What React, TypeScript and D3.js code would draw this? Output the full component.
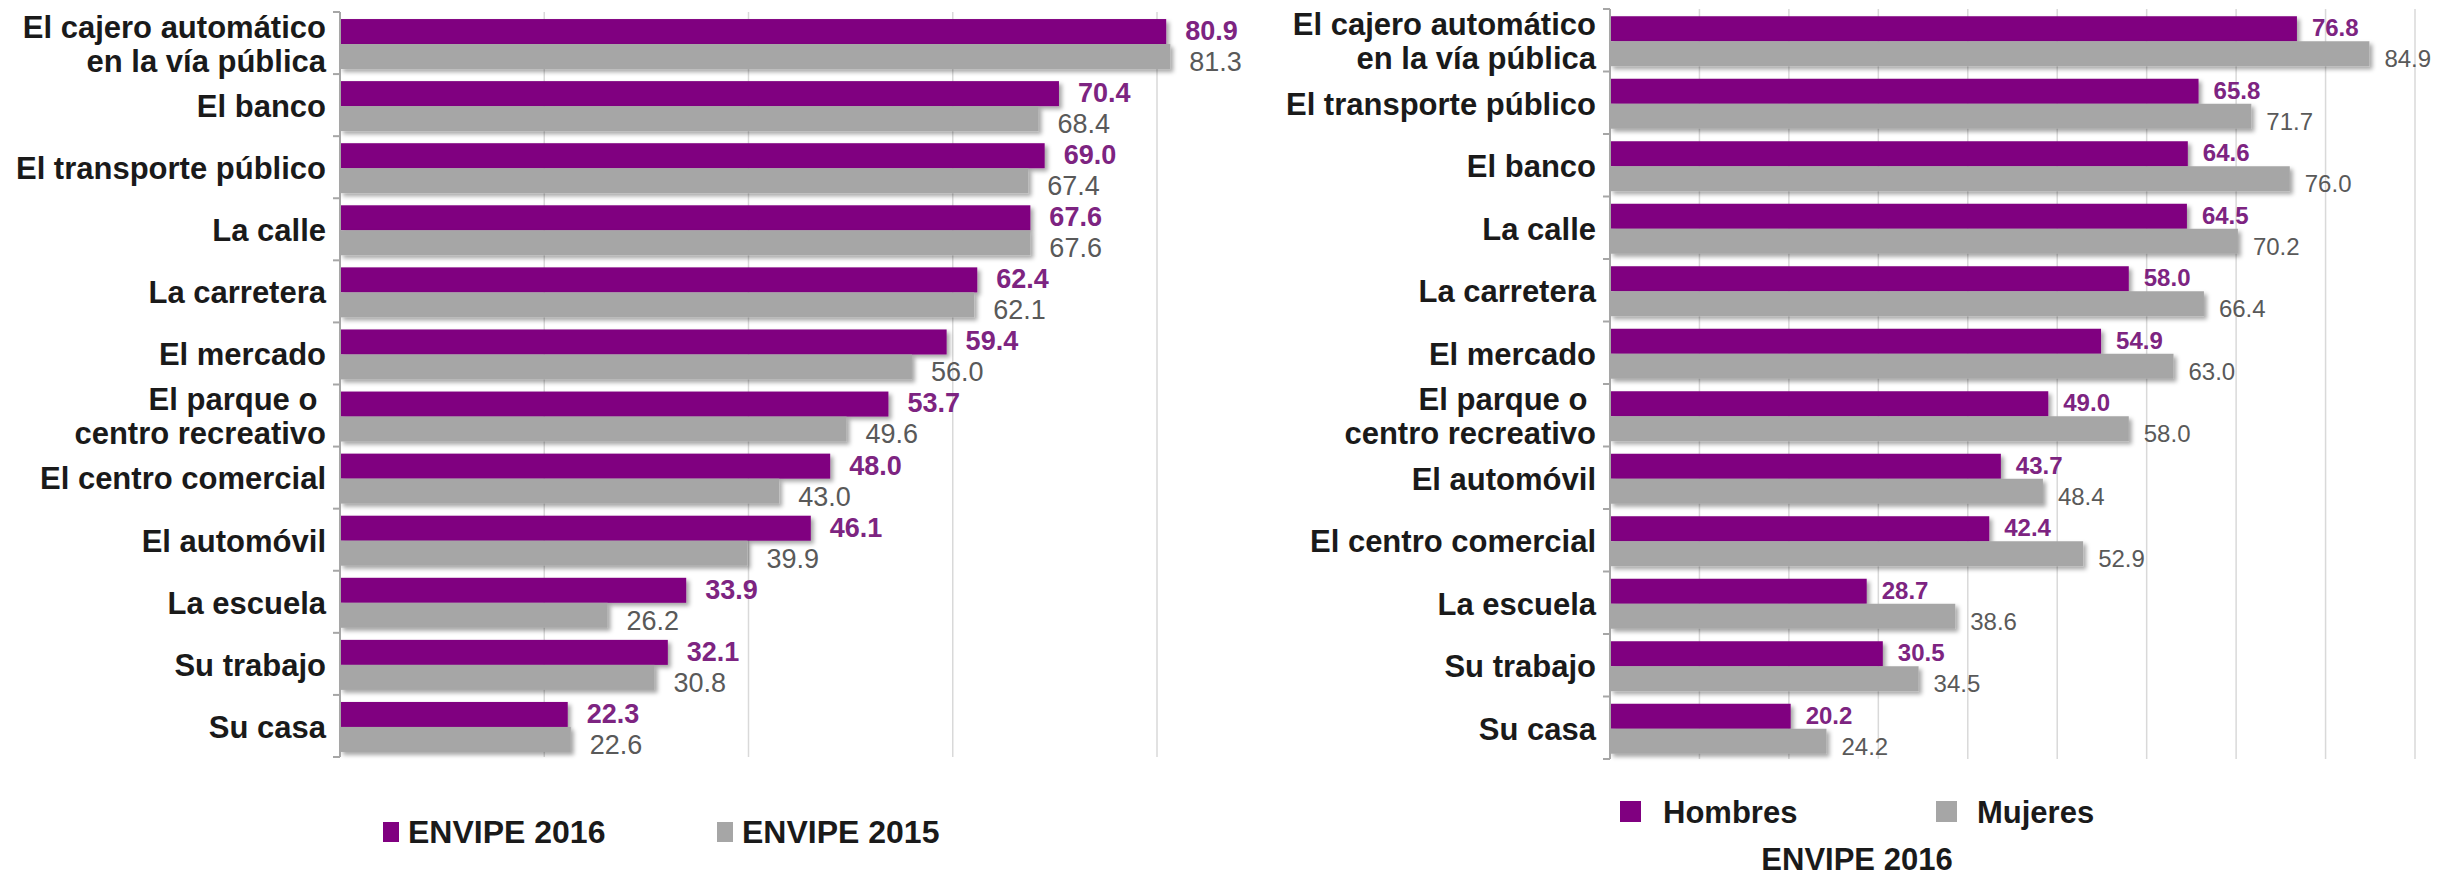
import React from 'react';
import * as d3 from 'd3';

// Left panel: ENVIPE 2016 vs 2015
const leftCategories = [
    'El cajero automático\nen la vía pública',
    'El banco',
    'El transporte público',
    'La calle',
    'La carretera',
    'El mercado',
    'El parque o \ncentro recreativo',
    'El centro comercial',
    'El automóvil',
    'La escuela',
    'Su trabajo',
    'Su casa',
];
const envipe2016 = [80.9, 70.4, 69.0, 67.6, 62.4, 59.4, 53.7, 48.0, 46.1, 33.9, 32.1, 22.3];
const envipe2015 = [81.3, 68.4, 67.4, 67.6, 62.1, 56.0, 49.6, 43.0, 39.9, 26.2, 30.8, 22.6];
const leftTicks = [20, 40, 60, 80];

// Right panel: ENVIPE 2016 by sex
const rightCategories = [
    'El cajero automático\nen la vía pública',
    'El transporte público',
    'El banco',
    'La calle',
    'La carretera',
    'El mercado',
    'El parque o \ncentro recreativo',
    'El automóvil',
    'El centro comercial',
    'La escuela',
    'Su trabajo',
    'Su casa',
];
const hombres = [76.8, 65.8, 64.6, 64.5, 58.0, 54.9, 49.0, 43.7, 42.4, 28.7, 30.5, 20.2];
const mujeres = [84.9, 71.7, 76.0, 70.2, 66.4, 63.0, 58.0, 48.4, 52.9, 38.6, 34.5, 24.2];
const rightTicks = [10, 20, 30, 40, 50, 60, 70, 80, 90];

const PURPLE = '#800080';
const GRAY = '#a6a6a6';
const PURPLE_TEXT = '#7d2481';
const GRAY_TEXT = '#595959';
const FONT = "'Liberation Sans', Arial, sans-serif";

interface PanelProps {
    categories: string[];
    a: number[];
    b: number[];
    domainMax: number;
    ticks: number[];
    x0: number;
    x1: number;
    top: number;
    bottom: number;
    valueSize: number;
    valueGap: number;
}

function Panel({ categories, a, b, domainMax, ticks, x0, x1, top, bottom, valueSize, valueGap }: PanelProps) {
    const x = d3.scaleLinear().domain([0, domainMax]).range([x0, x1]);
    const y = d3.scaleBand<string>().domain(categories).range([top, bottom]).padding(0);
    const step = y.bandwidth();
    const barH = 25;
    const lineH = 1.1; // em, for two-line category labels
    const fmt = d3.format('.1f');

    return (
        <g>
            {ticks.map(t => (
                <line key={t} x1={x(t)} x2={x(t)} y1={top} y2={bottom} stroke="#d9d9d9" strokeWidth={1.5} />
            ))}
            {categories.map((c, i) => {
                const yc = (y(c) ?? 0) + step / 2 + 1;
                const lines = c.split('\n');
                return (
                    <g key={c}>
                        <rect x={x0} y={yc - barH} width={x(a[i]) - x0} height={barH} fill={PURPLE} filter="url(#shadow)" />
                        <rect x={x0} y={yc} width={x(b[i]) - x0} height={barH} fill={GRAY} filter="url(#shadow)" />
                        <text x={x(a[i]) + valueGap} y={yc - barH / 2 - 1} dy="0.35em" fontSize={valueSize}
                            fontWeight="bold" fill={PURPLE_TEXT} fontFamily={FONT}>{fmt(a[i])}</text>
                        <text x={x(b[i]) + valueGap} y={yc + barH / 2 + 5} dy="0.35em" fontSize={valueSize}
                            fill={GRAY_TEXT} fontFamily={FONT}>{fmt(b[i])}</text>
                        <text x={x0 - 14} y={yc} textAnchor="end" fontSize={31} fontWeight="bold" fill="#1a1a1a"
                            fontFamily={FONT} style={{ whiteSpace: 'pre' }}>
                            {lines.map((l, k) => (
                                <tspan key={k} x={x0 - 14}
                                    dy={k === 0 ? `${0.35 - (lines.length - 1) * lineH / 2}em` : `${lineH}em`}>{l}</tspan>
                            ))}
                        </text>
                    </g>
                );
            })}
            {/* category axis */}
            <line x1={x0} x2={x0} y1={top} y2={bottom} stroke="#a6a6a6" strokeWidth={2} />
            {d3.range(categories.length + 1).map(k => (
                <line key={k} x1={x0 - 7} x2={x0} y1={top + k * step} y2={top + k * step} stroke="#a6a6a6" strokeWidth={2} />
            ))}
        </g>
    );
}

export default function App() {
    return (
        <svg width={2448} height={878} style={{ position: 'absolute', left: 0, top: 0, display: 'block', background: '#fff' }}>
            <defs>
                <filter id="shadow" x="-5%" y="-30%" width="115%" height="180%">
                    <feDropShadow dx={3} dy={3} stdDeviation={2} floodColor="#000" floodOpacity={0.35} />
                </filter>
            </defs>
            <rect width={2448} height={878} fill="#fff" />
            <Panel categories={leftCategories} a={envipe2016} b={envipe2015} domainMax={80} ticks={leftTicks}
                x0={340} x1={1157} top={12} bottom={757} valueSize={27} valueGap={19} />
            <Panel categories={rightCategories} a={hombres} b={mujeres} domainMax={90} ticks={rightTicks}
                x0={1610} x1={2415} top={9} bottom={759} valueSize={24} valueGap={15} />

            {/* left legend */}
            <g fontFamily={FONT} fontWeight="bold" fontSize={32} fill="#1a1a1a">
                <rect x={383} y={822} width={16} height={20} fill={PURPLE} />
                <text x={408} y={843}>ENVIPE 2016</text>
                <rect x={717} y={822} width={16} height={20} fill={GRAY} />
                <text x={742} y={843}>ENVIPE 2015</text>
            </g>
            {/* right legend */}
            <g fontFamily={FONT} fontWeight="bold" fontSize={31} fill="#1a1a1a">
                <rect x={1620} y={801} width={21} height={21} fill={PURPLE} />
                <text x={1663} y={823}>Hombres</text>
                <rect x={1936} y={801} width={21} height={21} fill={GRAY} />
                <text x={1977} y={823}>Mujeres</text>
                <text x={1857} y={870} textAnchor="middle">ENVIPE 2016</text>
            </g>
        </svg>
    );
}
